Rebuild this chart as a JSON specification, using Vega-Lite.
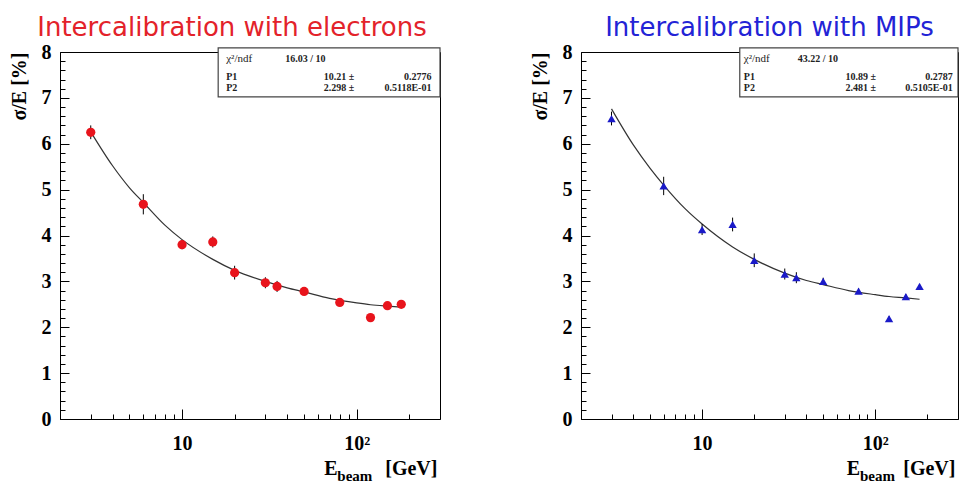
{
  "$schema": "https://vega.github.io/schema/vega-lite/v6.json",
  "background": "white",
  "padding": {"left": 8, "top": 14, "right": 0, "bottom": 0},
  "spacing": 141,
  "bounds": "flush",
  "datasets": {
    "electrons": [
      {"E": 3, "s": 6.25, "lo": 6.1, "hi": 6.4},
      {"E": 6, "s": 4.68, "lo": 4.46, "hi": 4.9},
      {"E": 10, "s": 3.80, "lo": 3.7, "hi": 3.9},
      {"E": 15, "s": 3.86, "lo": 3.74, "hi": 3.98},
      {"E": 20, "s": 3.19, "lo": 3.04, "hi": 3.34},
      {"E": 30, "s": 2.97, "lo": 2.85, "hi": 3.09},
      {"E": 35, "s": 2.89, "lo": 2.77, "hi": 3.01},
      {"E": 50, "s": 2.78, "lo": 2.7, "hi": 2.86},
      {"E": 80, "s": 2.54, "lo": 2.48, "hi": 2.6},
      {"E": 120, "s": 2.21, "lo": 2.16, "hi": 2.26},
      {"E": 150, "s": 2.47, "lo": 2.42, "hi": 2.52},
      {"E": 180, "s": 2.50, "lo": 2.45, "hi": 2.55}
    ],
    "mips": [
      {"E": 3, "s": 6.55, "lo": 6.4, "hi": 6.7},
      {"E": 6, "s": 5.08, "lo": 4.88, "hi": 5.28},
      {"E": 10, "s": 4.13, "lo": 4.01, "hi": 4.25},
      {"E": 15, "s": 4.24, "lo": 4.09, "hi": 4.39},
      {"E": 20, "s": 3.46, "lo": 3.31, "hi": 3.61},
      {"E": 30, "s": 3.16, "lo": 3.04, "hi": 3.28},
      {"E": 35, "s": 3.08, "lo": 2.96, "hi": 3.2},
      {"E": 50, "s": 3.00, "lo": 2.92, "hi": 3.08},
      {"E": 80, "s": 2.79, "lo": 2.73, "hi": 2.85},
      {"E": 120, "s": 2.19, "lo": 2.14, "hi": 2.24},
      {"E": 150, "s": 2.67, "lo": 2.62, "hi": 2.72},
      {"E": 180, "s": 2.89, "lo": 2.84, "hi": 2.94}
    ],
    "fitE": [
      {"E": 3, "s": 6.26}, {"E": 4, "s": 5.52}, {"E": 5, "s": 5.04}, {"E": 6, "s": 4.72},
      {"E": 8, "s": 4.22}, {"E": 10, "s": 3.91}, {"E": 15, "s": 3.48}, {"E": 20, "s": 3.24},
      {"E": 30, "s": 3.0}, {"E": 40, "s": 2.86}, {"E": 50, "s": 2.77}, {"E": 70, "s": 2.63},
      {"E": 100, "s": 2.53}, {"E": 120, "s": 2.49}, {"E": 150, "s": 2.46}, {"E": 180, "s": 2.44}
    ],
    "fitM": [
      {"E": 3, "s": 6.76}, {"E": 4, "s": 5.98}, {"E": 5, "s": 5.47}, {"E": 6, "s": 5.1},
      {"E": 8, "s": 4.58}, {"E": 10, "s": 4.25}, {"E": 15, "s": 3.75}, {"E": 20, "s": 3.48},
      {"E": 30, "s": 3.18}, {"E": 40, "s": 3.02}, {"E": 50, "s": 2.93}, {"E": 70, "s": 2.8},
      {"E": 100, "s": 2.71}, {"E": 120, "s": 2.67}, {"E": 150, "s": 2.64}, {"E": 180, "s": 2.61}
    ],
    "minor": [{"E": 10, "s": 1}]
  },
  "config": {
    "view": {"stroke": "black", "strokeWidth": 1},
    "axis": {
      "grid": false,
      "domainColor": "black",
      "tickColor": "black",
      "labelColor": "black",
      "labelFont": "Liberation Serif",
      "labelFontWeight": "bold",
      "labelFontSize": 20,
      "titleFont": "Liberation Serif",
      "titleFontWeight": "bold",
      "titleFontSize": 20,
      "titleColor": "black",
      "labelOverlap": false
    },
    "text": {"font": "Liberation Serif", "fontWeight": "bold", "color": "#222", "fontSize": 10}
  },
  "hconcat": [
    {
      "width": 380,
      "height": 367,
      "title": {"text": "Intercalibration with electrons", "color": "#e3222a", "font": "DejaVu Sans", "fontSize": 26, "fontWeight": "normal", "anchor": "middle", "frame": "group", "dx": -18, "offset": -20, "baseline": "alphabetic"},
      "resolve": {"axis": {"x": "independent", "y": "independent"}},
      "layer": [
        {
          "layer": [
            {
              "data": {"name": "fitE"},
              "mark": {"type": "line", "color": "#333", "strokeWidth": 1.2, "interpolate": "monotone"},
              "encoding": {
                "x": {"field": "E", "type": "quantitative", "scale": {"type": "log", "domain": [2, 300], "nice": false},
                  "axis": {"values": [10, 100], "labelExpr": "datum.value == 10 ? '10' : '10²'", "tickSize": -10, "labelPadding": 24, "title": null}},
                "y": {"field": "s", "type": "quantitative", "title": "σ/E [%]", "scale": {"domain": [0, 8], "nice": false},
                  "axis": {"values": [0,1,2,3,4,5,6,7,8], "format": "d", "tickSize": -9, "labelPadding": 18, "titleAnchor": "end", "titlePadding": 12}}
              }
            },
            {
              "data": {"name": "electrons"},
              "mark": {"type": "rule", "color": "black", "strokeWidth": 1},
              "encoding": {
                "x": {"field": "E", "type": "quantitative"},
                "y": {"field": "lo", "type": "quantitative", "title": "σ/E [%]"},
                "y2": {"field": "hi"}
              }
            },
            {
              "data": {"name": "electrons"},
              "mark": {"type": "point", "shape": "circle", "filled": true, "size": 85, "color": "#e8141c", "opacity": 1},
              "encoding": {
                "x": {"field": "E", "type": "quantitative"},
                "y": {"field": "s", "type": "quantitative", "title": "σ/E [%]"}
              }
            },
            {
              "data": {"values": [{}]},
              "mark": {"type": "rect", "fill": "white", "stroke": "#444", "strokeWidth": 1.2},
              "encoding": {"x": {"datum": 16.1}, "x2": {"datum": 300}, "y": {"datum": 8.09}, "y2": {"datum": 7.02}}
            },
            {"data": {"values": [{"t": "χ²/ndf"}]}, "mark": {"type": "text", "align": "left", "baseline": "middle", "fontWeight": "normal", "fontSize": 11}, "encoding": {"text": {"field": "t"}, "x": {"datum": 17.9}, "y": {"datum": 7.85}}},
            {"data": {"values": [{"t": "16.03   /   10"}]}, "mark": {"type": "text", "align": "left", "baseline": "middle"}, "encoding": {"text": {"field": "t"}, "x": {"datum": 39}, "y": {"datum": 7.85}}},
            {"data": {"values": [{"t": "P1"}]}, "mark": {"type": "text", "align": "left", "baseline": "middle"}, "encoding": {"text": {"field": "t"}, "x": {"datum": 17.9}, "y": {"datum": 7.45}}},
            {"data": {"values": [{"t": "P2"}]}, "mark": {"type": "text", "align": "left", "baseline": "middle"}, "encoding": {"text": {"field": "t"}, "x": {"datum": 17.9}, "y": {"datum": 7.21}}},
            {"data": {"values": [{"t": "10.21 ±"}]}, "mark": {"type": "text", "align": "right", "baseline": "middle"}, "encoding": {"text": {"field": "t"}, "x": {"datum": 97}, "y": {"datum": 7.45}}},
            {"data": {"values": [{"t": "2.298 ±"}]}, "mark": {"type": "text", "align": "right", "baseline": "middle"}, "encoding": {"text": {"field": "t"}, "x": {"datum": 97}, "y": {"datum": 7.21}}},
            {"data": {"values": [{"t": "0.2776"}]}, "mark": {"type": "text", "align": "right", "baseline": "middle"}, "encoding": {"text": {"field": "t"}, "x": {"datum": 268}, "y": {"datum": 7.45}}},
            {"data": {"values": [{"t": "0.5118E-01"}]}, "mark": {"type": "text", "align": "right", "baseline": "middle"}, "encoding": {"text": {"field": "t"}, "x": {"datum": 268}, "y": {"datum": 7.21}}},
            {"data": {"values": [{"t": "E"}]}, "mark": {"type": "text", "align": "left", "baseline": "middle", "fontSize": 20, "color": "black"}, "encoding": {"text": {"field": "t"}, "x": {"datum": 65.3}, "y": {"datum": -1.08}}},
            {"data": {"values": [{"t": "beam"}]}, "mark": {"type": "text", "align": "left", "baseline": "middle", "fontSize": 15, "color": "black"}, "encoding": {"text": {"field": "t"}, "x": {"datum": 77.5}, "y": {"datum": -1.24}}},
            {"data": {"values": [{"t": "[GeV]"}]}, "mark": {"type": "text", "align": "right", "baseline": "middle", "fontSize": 20, "color": "black"}, "encoding": {"text": {"field": "t"}, "x": {"datum": 290}, "y": {"datum": -1.08}}}
          ]
        },
        {
          "data": {"name": "minor"},
          "mark": {"type": "point", "opacity": 0},
          "encoding": {
            "x": {"field": "E", "type": "quantitative", "axis": {"orient": "bottom", "values": [3,4,5,6,7,8,9,20,30,40,50,60,70,80,90,200], "tickSize": -5, "labels": false, "domain": false, "title": null}},
            "y": {"field": "s", "type": "quantitative", "axis": {"orient": "left", "values": [0.2,0.4,0.6,0.8,1.2,1.4,1.6,1.8,2.2,2.4,2.6,2.8,3.2,3.4,3.6,3.8,4.2,4.4,4.6,4.8,5.2,5.4,5.6,5.8,6.2,6.4,6.6,6.8,7.2,7.4,7.6,7.8], "tickSize": -5, "labels": false, "domain": false, "title": null}}
          }
        }
      ]
    },
    {
      "width": 377,
      "height": 367,
      "title": {"text": "Intercalibration with MIPs", "color": "#2323d6", "font": "DejaVu Sans", "fontSize": 26, "fontWeight": "normal", "anchor": "middle", "frame": "group", "dx": 0, "offset": -20, "baseline": "alphabetic"},
      "resolve": {"axis": {"x": "independent", "y": "independent"}},
      "layer": [
        {
          "layer": [
            {
              "data": {"name": "fitM"},
              "mark": {"type": "line", "color": "#333", "strokeWidth": 1.2, "interpolate": "monotone"},
              "encoding": {
                "x": {"field": "E", "type": "quantitative", "scale": {"type": "log", "domain": [2, 300], "nice": false},
                  "axis": {"values": [10, 100], "labelExpr": "datum.value == 10 ? '10' : '10²'", "tickSize": -10, "labelPadding": 24, "title": null}},
                "y": {"field": "s", "type": "quantitative", "title": "σ/E [%]", "scale": {"domain": [0, 8], "nice": false},
                  "axis": {"values": [0,1,2,3,4,5,6,7,8], "format": "d", "tickSize": -9, "labelPadding": 18, "titleAnchor": "end", "titlePadding": 12}}
              }
            },
            {
              "data": {"name": "mips"},
              "mark": {"type": "rule", "color": "black", "strokeWidth": 1},
              "encoding": {
                "x": {"field": "E", "type": "quantitative"},
                "y": {"field": "lo", "type": "quantitative", "title": "σ/E [%]"},
                "y2": {"field": "hi"}
              }
            },
            {
              "data": {"name": "mips"},
              "mark": {"type": "point", "shape": "triangle-up", "filled": true, "size": 70, "color": "#1a1ac8", "opacity": 1},
              "encoding": {
                "x": {"field": "E", "type": "quantitative"},
                "y": {"field": "s", "type": "quantitative", "title": "σ/E [%]"}
              }
            },
            {
              "data": {"values": [{}]},
              "mark": {"type": "rect", "fill": "white", "stroke": "#444", "strokeWidth": 1.2},
              "encoding": {"x": {"datum": 16.5}, "x2": {"datum": 300}, "y": {"datum": 8.09}, "y2": {"datum": 7.02}}
            },
            {"data": {"values": [{"t": "χ²/ndf"}]}, "mark": {"type": "text", "align": "left", "baseline": "middle", "fontWeight": "normal", "fontSize": 11}, "encoding": {"text": {"field": "t"}, "x": {"datum": 17.4}, "y": {"datum": 7.85}}},
            {"data": {"values": [{"t": "43.22   /   10"}]}, "mark": {"type": "text", "align": "left", "baseline": "middle"}, "encoding": {"text": {"field": "t"}, "x": {"datum": 35.7}, "y": {"datum": 7.85}}},
            {"data": {"values": [{"t": "P1"}]}, "mark": {"type": "text", "align": "left", "baseline": "middle"}, "encoding": {"text": {"field": "t"}, "x": {"datum": 17.4}, "y": {"datum": 7.45}}},
            {"data": {"values": [{"t": "P2"}]}, "mark": {"type": "text", "align": "left", "baseline": "middle"}, "encoding": {"text": {"field": "t"}, "x": {"datum": 17.4}, "y": {"datum": 7.21}}},
            {"data": {"values": [{"t": "10.89 ±"}]}, "mark": {"type": "text", "align": "right", "baseline": "middle"}, "encoding": {"text": {"field": "t"}, "x": {"datum": 100.8}, "y": {"datum": 7.45}}},
            {"data": {"values": [{"t": "2.481 ±"}]}, "mark": {"type": "text", "align": "right", "baseline": "middle"}, "encoding": {"text": {"field": "t"}, "x": {"datum": 100.8}, "y": {"datum": 7.21}}},
            {"data": {"values": [{"t": "0.2787"}]}, "mark": {"type": "text", "align": "right", "baseline": "middle"}, "encoding": {"text": {"field": "t"}, "x": {"datum": 280}, "y": {"datum": 7.45}}},
            {"data": {"values": [{"t": "0.5105E-01"}]}, "mark": {"type": "text", "align": "right", "baseline": "middle"}, "encoding": {"text": {"field": "t"}, "x": {"datum": 280}, "y": {"datum": 7.21}}},
            {"data": {"values": [{"t": "E"}]}, "mark": {"type": "text", "align": "left", "baseline": "middle", "fontSize": 20, "color": "black"}, "encoding": {"text": {"field": "t"}, "x": {"datum": 68.5}, "y": {"datum": -1.08}}},
            {"data": {"values": [{"t": "beam"}]}, "mark": {"type": "text", "align": "left", "baseline": "middle", "fontSize": 15, "color": "black"}, "encoding": {"text": {"field": "t"}, "x": {"datum": 81.5}, "y": {"datum": -1.24}}},
            {"data": {"values": [{"t": "[GeV]"}]}, "mark": {"type": "text", "align": "right", "baseline": "middle", "fontSize": 20, "color": "black"}, "encoding": {"text": {"field": "t"}, "x": {"datum": 290}, "y": {"datum": -1.08}}}
          ]
        },
        {
          "data": {"name": "minor"},
          "mark": {"type": "point", "opacity": 0},
          "encoding": {
            "x": {"field": "E", "type": "quantitative", "axis": {"orient": "bottom", "values": [3,4,5,6,7,8,9,20,30,40,50,60,70,80,90,200], "tickSize": -5, "labels": false, "domain": false, "title": null}},
            "y": {"field": "s", "type": "quantitative", "axis": {"orient": "left", "values": [0.2,0.4,0.6,0.8,1.2,1.4,1.6,1.8,2.2,2.4,2.6,2.8,3.2,3.4,3.6,3.8,4.2,4.4,4.6,4.8,5.2,5.4,5.6,5.8,6.2,6.4,6.6,6.8,7.2,7.4,7.6,7.8], "tickSize": -5, "labels": false, "domain": false, "title": null}}
          }
        }
      ]
    }
  ]
}
